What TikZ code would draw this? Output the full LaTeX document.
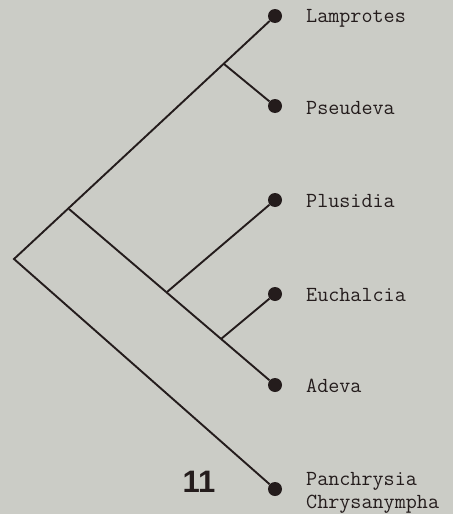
\documentclass[tikz,border=0pt]{standalone}
\usepackage{fontspec}
\usepackage{tikz}
\usetikzlibrary{positioning}
\newfontfamily\numfont{Liberation Sans}
\definecolor{paper}{RGB}{203,204,198}
\definecolor{ink}{RGB}{36,28,28}

\begin{document}
\begin{tikzpicture}[
  x=1pt, y=-1pt,
  tip/.style={circle, fill=ink, inner sep=0pt, minimum size=14pt},
  taxon/.style={anchor=base west, inner sep=0pt, align=left, text=ink,
                font=\ttfamily\fontsize{21.5}{23}\selectfont},
  branch/.style={draw=ink, line width=1.9pt, line join=miter}
]
\fill[paper] (0,0) rectangle (453,514);
\useasboundingbox (0,0) rectangle (453,514);

% terminal taxa
\node[tip] (lamp) at (275,16)  {};
\node[tip] (pseu) at (275,106) {};
\node[tip] (plus) at (275,200) {};
\node[tip] (euch) at (275,294) {};
\node[tip] (adev) at (275,385) {};
\node[tip] (panc) at (275,489) {};

\node[taxon] (lamp-l) at (306,23)  {Lamprotes};
\node[taxon] (pseu-l) at (306,114) {Pseudeva};
\node[taxon] (plus-l) at (306,207) {Plusidia};
\node[taxon] (euch-l) at (306,301) {Euchalcia};
\node[taxon] (adev-l) at (306,392) {Adeva};
% two names on one tip, base is the lower line
\node[taxon] (panc-l) at (306,508.5) {Panchrysia\\Chrysanympha};

% branching points
\coordinate (root) at (14,259);
\coordinate (n1)   at (69,209);
\coordinate (n2)   at (224,64);
\coordinate (n3)   at (167,292);
\coordinate (n4)   at (221,339);

\draw[branch] (lamp) -- (root) -- (panc);
\draw[branch] (n2) -- (pseu);
\draw[branch] (n1) -- (adev);
\draw[branch] (n3) -- (plus);
\draw[branch] (n4) -- (euch);

\node[text=ink, font=\numfont\bfseries\fontsize{31}{31}\selectfont,
      anchor=base, inner sep=0pt] (fig) at (199,492) {11};
\end{tikzpicture}
\end{document}
